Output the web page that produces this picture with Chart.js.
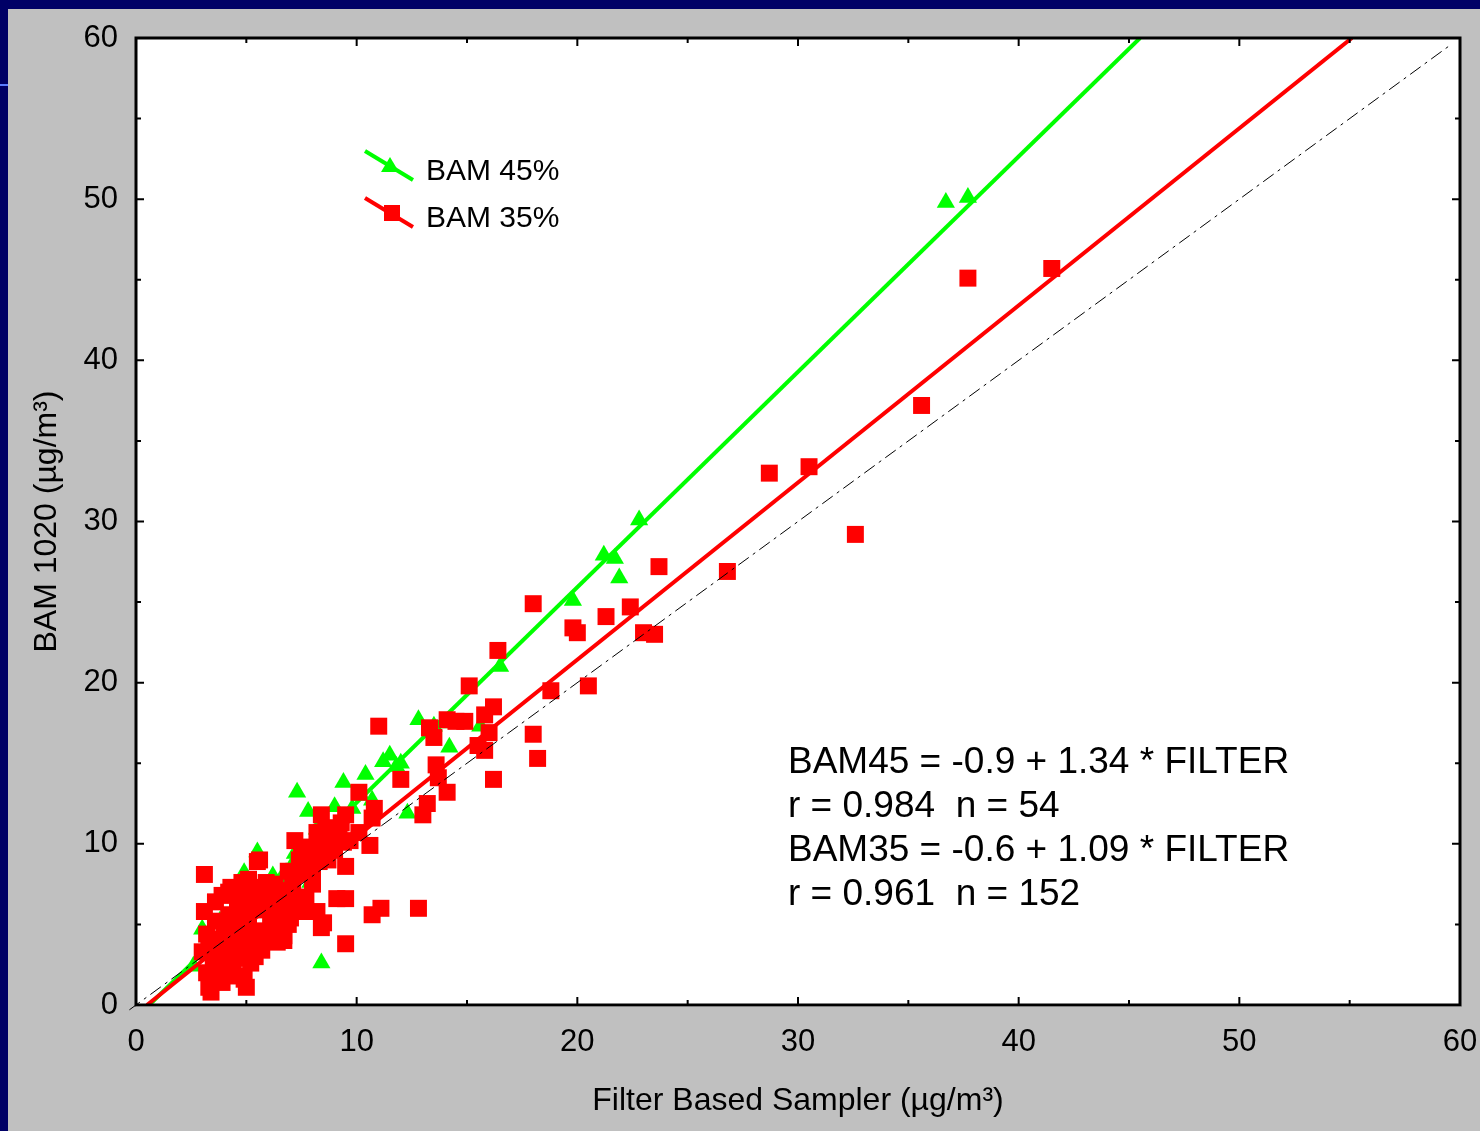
<!DOCTYPE html>
<html>
<head>
<meta charset="utf-8">
<script src="https://cdn.jsdelivr.net/npm/chart.js@4.4.1/dist/chart.umd.min.js"></script>
<style>
  html, body { margin: 0; padding: 0; background: #000066; }
  #wrap { position: relative; width: 1480px; height: 1131px; }
</style>
</head>
<body>
<div id="wrap"><canvas id="chart" width="1480" height="1131"></canvas></div>
<script>
// Axis ticks (µg/m³)
const axisTicks = [0, 10, 20, 30, 40, 50, 60];

// BAM 45% vs filter, [filter, bam]
const bam45Points = [
  [36.7, 49.8], [37.7, 50.1], [22.8, 30.1], [21.2, 27.9], [21.7, 27.7], [21.9, 26.5],
  [19.8, 25.1], [16.5, 21.0], [12.8, 17.7], [14.2, 16.0], [9.4, 13.8], [10.4, 14.3],
  [11.2, 15.1], [11.8, 14.8], [12.3, 11.9], [9.0, 12.3], [7.3, 13.2], [7.8, 12.0],
  [8.4, 2.6], [5.5, 9.5], [8.2, 10.9], [10.7, 12.7], [4.9, 8.2], [4.9, 6.3],
  [7.9, 7.6], [6.8, 8.2], [3.0, 4.7], [2.6, 2.4], [15.6, 17.3], [14.0, 17.5],
  [11.5, 15.5], [3.5, 3.8], [4.0, 4.5], [4.5, 5.0], [5.0, 5.8], [5.5, 6.5],
  [6.0, 7.0], [6.3, 7.6], [6.6, 7.9], [7.0, 8.5], [7.5, 9.0], [8.0, 9.6],
  [8.5, 10.2], [9.0, 11.0], [3.8, 5.2], [4.2, 4.8], [5.2, 6.0], [5.8, 6.9],
  [6.2, 8.0], [7.2, 9.4], [9.8, 12.2], [10.2, 13.0], [13.5, 17.3], [12.0, 15.0]
];

// BAM 35% vs filter
const bam35Points = [
  [41.5, 45.7], [37.7, 45.1], [35.6, 37.2], [32.6, 29.2], [30.5, 33.4], [28.7, 33.0],
  [26.8, 26.9], [23.7, 27.2], [23.5, 23.0], [23.0, 23.1], [22.4, 24.7], [21.3, 24.1],
  [20.5, 19.8], [20.0, 23.1], [19.8, 23.4], [18.8, 19.5], [18.2, 15.3], [18.0, 16.8],
  [18.0, 24.9], [16.4, 22.0], [16.2, 14.0], [16.2, 18.5], [16.0, 16.9], [15.8, 18.0],
  [15.8, 15.8], [15.5, 16.1], [15.1, 19.8], [14.9, 17.6], [14.5, 17.6], [14.1, 13.2],
  [14.1, 17.7], [13.7, 14.1], [13.6, 14.9], [13.5, 16.6], [13.3, 17.2], [13.2, 12.5],
  [13.0, 11.8], [12.8, 6.0], [12.0, 14.0], [11.0, 17.3], [11.1, 6.0], [10.7, 5.6],
  [10.8, 12.2], [10.7, 11.6], [10.6, 9.9], [10.1, 10.7], [10.1, 13.2], [9.5, 11.8],
  [9.3, 11.3], [9.5, 3.8], [9.5, 8.6], [9.5, 6.6], [9.1, 6.6], [9.4, 10.1],
  [8.4, 11.8], [8.4, 4.8], [8.2, 5.8], [7.2, 10.2], [8.4, 10.7], [9.7, 10.2],
  [7.5, 9.2], [7.3, 8.2], [5.6, 9.0],
  [3.1, 8.1], [3.1, 5.8], [3.0, 3.3], [3.2, 4.4], [3.3, 1.1], [3.4, 0.8],
  [3.2, 2.0], [3.5, 3.0], [3.6, 5.2], [3.8, 4.1], [3.9, 6.8], [4.0, 2.6],
  [4.1, 3.6], [4.2, 5.6], [4.3, 7.3], [4.4, 2.2], [4.5, 4.8], [4.6, 6.2],
  [4.7, 3.2], [4.8, 7.6], [4.9, 1.6], [5.0, 1.1], [5.0, 4.2], [5.1, 5.4],
  [5.2, 6.8], [5.2, 2.6], [5.3, 3.8], [5.4, 7.3], [5.5, 8.9], [5.5, 4.6],
  [5.6, 5.9], [5.7, 3.4], [5.8, 6.5], [5.9, 7.6], [6.0, 4.4], [6.1, 5.2],
  [6.2, 6.9], [6.3, 7.5], [6.4, 3.9], [6.5, 5.6], [6.6, 6.2], [6.7, 4.0],
  [6.8, 7.1], [6.9, 5.0], [7.0, 6.4], [7.1, 7.3], [7.4, 9.0], [7.6, 5.8],
  [7.7, 6.7], [7.8, 8.6], [7.9, 9.8], [8.0, 7.5], [8.1, 9.4], [8.2, 10.7],
  [8.3, 8.9], [8.5, 5.1], [8.5, 9.8], [8.6, 11.0], [8.8, 10.3], [9.0, 9.6],
  [9.2, 10.6], [3.4, 4.0], [3.7, 2.4], [4.0, 4.9], [4.4, 3.9], [4.6, 2.9],
  [4.9, 5.2], [5.3, 6.0], [5.6, 4.2], [6.0, 6.0], [6.3, 4.7], [6.6, 7.0],
  [7.0, 5.4], [3.3, 3.6], [3.6, 6.4], [4.2, 7.0], [4.8, 6.6], [5.1, 7.8],
  [5.8, 7.0], [6.4, 6.6], [7.3, 6.1], [6.7, 4.3], [5.4, 3.0], [4.5, 1.8],
  [3.9, 1.4], [8.0, 8.2], [7.6, 9.6], [6.9, 8.3], [8.7, 9.0]
];

// Regression lines as drawn (start on x axis, end at top of plot)
const fit45Line = [[0.6, 0], [45.5, 60]];
const fit35Line = [[0.5, 0], [55.1, 60]];
const oneToOne = [[-0.3, -0.3], [59.6, 59.6]];

const fitText = [
  'BAM45 = -0.9 + 1.34 * FILTER',
  'r = 0.984  n = 54',
  'BAM35 = -0.6 + 1.09 * FILTER',
  'r = 0.961  n = 152'
];
const legendNames = ['BAM 45%', 'BAM 35%'];

const FONT = '"Liberation Sans", Arial, sans-serif';
const toXY = arr => arr.map(p => ({ x: p[0], y: p[1] }));

// Background, frame, inward ticks, legend and fit text
const decorPlugin = {
    id: 'decor',
    beforeDraw(chart) {
        const ctx = chart.ctx;
        const a = chart.chartArea;
        ctx.save();
        ctx.fillStyle = '#000066';
        ctx.fillRect(0, 0, chart.width, chart.height);
        ctx.fillStyle = '#c0c0c0';
        ctx.fillRect(8, 9, chart.width - 8, chart.height - 9);
        ctx.fillStyle = '#5a7cff';
        ctx.fillRect(0, 84, 8, 2);
        ctx.fillStyle = '#ffffff';
        ctx.fillRect(a.left, a.top, a.right - a.left + 1, a.bottom - a.top + 2);
        ctx.restore();
    },
    afterDraw(chart) {
        const ctx = chart.ctx;
        const a = chart.chartArea;
        const xs = chart.scales.x, ys = chart.scales.y;
        ctx.save();

        // frame
        ctx.strokeStyle = '#000';
        ctx.lineWidth = 3;
        ctx.strokeRect(a.left, a.top, a.right - a.left, a.bottom - a.top);

        // inward ticks every 5
        ctx.lineWidth = 2;
        ctx.beginPath();
        for (let v = 5; v < 60; v += 5) {
            const len = v % 10 === 0 ? 8 : 5;
            const px = xs.getPixelForValue(v);
            const py = ys.getPixelForValue(v);
            ctx.moveTo(px, a.bottom); ctx.lineTo(px, a.bottom - len);
            ctx.moveTo(px, a.top); ctx.lineTo(px, a.top + len);
            ctx.moveTo(a.left, py); ctx.lineTo(a.left + len, py);
            ctx.moveTo(a.right, py); ctx.lineTo(a.right - len, py);
        }
        ctx.stroke();

        // legend
        ctx.lineWidth = 4;
        ctx.strokeStyle = '#00ff00';
        ctx.beginPath(); ctx.moveTo(365, 151); ctx.lineTo(413, 180); ctx.stroke();
        ctx.fillStyle = '#00ff00';
        ctx.beginPath(); ctx.moveTo(390, 157); ctx.lineTo(399, 172); ctx.lineTo(381, 172); ctx.closePath(); ctx.fill();
        ctx.strokeStyle = '#ff0000';
        ctx.beginPath(); ctx.moveTo(365, 198); ctx.lineTo(413, 227); ctx.stroke();
        ctx.fillStyle = '#ff0000';
        ctx.fillRect(384, 205, 16, 16);

        ctx.fillStyle = '#000';
        ctx.textBaseline = 'middle';
        ctx.textAlign = 'left';
        ctx.font = '30px ' + FONT;
        ctx.fillText(legendNames[0], 426, 172);
        ctx.fillText(legendNames[1], 426, 219);

        // regression text
        ctx.font = '37px ' + FONT;
        fitText.forEach((t, i) => ctx.fillText(t, 788, 763 + i * 44));
        ctx.restore();
    }
};

function initChart() {
    const ctx = document.getElementById('chart');
    new Chart(ctx, {
        type: 'scatter',
        data: {
            datasets: [
                {
                    label: '1:1',
                    type: 'line',
                    data: toXY(oneToOne),
                    borderColor: '#000',
                    borderWidth: 1,
                    borderDash: [13, 5, 3, 5],
                    pointRadius: 0,
                    clip: false,
                    order: 0
                },
                {
                    label: legendNames[1],
                    data: toXY(bam35Points),
                    pointStyle: 'rect',
                    pointRadius: 12,
                    backgroundColor: '#ff0000',
                    borderWidth: 0,
                    order: 1
                },
                {
                    label: 'fit 35',
                    type: 'line',
                    data: toXY(fit35Line),
                    borderColor: '#ff0000',
                    borderWidth: 4,
                    pointRadius: 0,
                    order: 2
                },
                {
                    label: 'fit 45',
                    type: 'line',
                    data: toXY(fit45Line),
                    borderColor: '#00ff00',
                    borderWidth: 4,
                    pointRadius: 0,
                    order: 3
                },
                {
                    label: legendNames[0],
                    data: toXY(bam45Points),
                    pointStyle: 'triangle',
                    pointRadius: 10.5,
                    backgroundColor: '#00ff00',
                    borderWidth: 0,
                    order: 4
                }
            ]
        },
        options: {
            responsive: false,
            animation: false,
            devicePixelRatio: 1,
            layout: { padding: { left: 0, top: 38, right: 20, bottom: 0 } },
            plugins: {
                legend: { display: false },
                tooltip: { enabled: false }
            },
            scales: {
                x: {
                    type: 'linear',
                    min: 0,
                    max: 60,
                    afterBuildTicks: s => { s.ticks = axisTicks.map(v => ({ value: v })); },
                    afterFit: s => { s.height = 126; s.paddingLeft = 0; s.paddingRight = 0; },
                    grid: { display: false, drawTicks: false },
                    border: { display: false },
                    ticks: { color: '#000', padding: 19, font: { family: FONT, size: 31 } },
                    title: {
                        display: true,
                        text: 'Filter Based Sampler (µg/m³)',
                        color: '#000',
                        font: { family: FONT, size: 32 },
                        padding: { top: 0, bottom: 11 }
                    }
                },
                y: {
                    type: 'linear',
                    min: 0,
                    max: 60,
                    afterBuildTicks: s => { s.ticks = axisTicks.map(v => ({ value: v })); },
                    afterFit: s => { s.width = 136; s.paddingTop = 0; s.paddingBottom = 0; },
                    grid: { display: false, drawTicks: false },
                    border: { display: false },
                    ticks: { color: '#000', padding: 18, font: { family: FONT, size: 31 } },
                    title: {
                        display: true,
                        text: 'BAM 1020 (µg/m³)',
                        color: '#000',
                        font: { family: FONT, size: 32 },
                        padding: { top: 28, bottom: 0 }
                    }
                }
            }
        },
        plugins: [decorPlugin]
    });
}

document.addEventListener('DOMContentLoaded', initChart);
</script>
</body>
</html>
